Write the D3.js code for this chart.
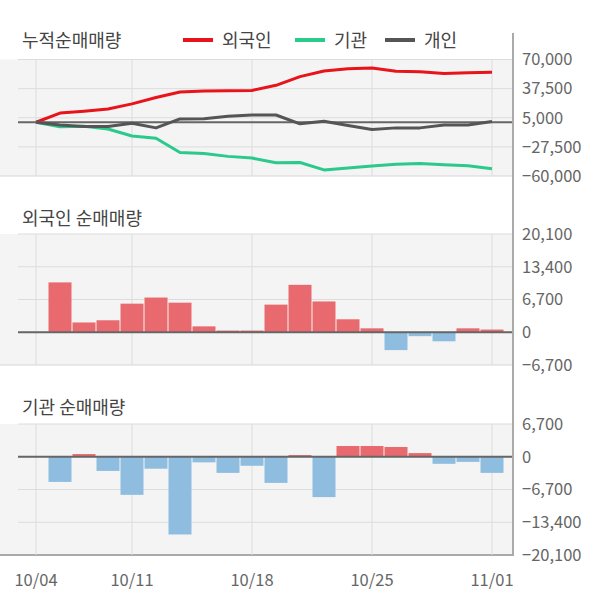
<!DOCTYPE html>
<html><head><meta charset="utf-8">
<script src="https://cdn.jsdelivr.net/npm/d3@7/dist/d3.min.js"></script>
<style>body{margin:0;background:#fff}svg{display:block}text{font-family:"Noto Sans CJK KR","Noto Sans",sans-serif}</style>
</head><body><svg id="c" width="600" height="604"></svg>
<script>
const dates = ["10/04","10/05","10/08","10/10","10/11","10/12","10/15","10/16","10/17","10/18","10/19","10/22","10/23","10/24","10/25","10/26","10/29","10/30","10/31","11/01"];
const tickDates = ["10/04","10/11","10/18","10/25","11/01"];
const foreignDaily = [0,10200,2000,2450,5850,7100,6050,1200,350,350,5650,9700,6300,2650,800,-3650,-800,-1850,800,550];
const instDaily = [0,-5150,550,-2900,-7800,-2450,-15900,-1150,-3300,-1850,-5350,350,-8250,2200,2200,2000,750,-1450,-1050,-3300];
const foreignCum = [0,10200,12200,14700,20500,27600,33700,34900,35200,35500,41200,50900,57200,59800,60600,57000,56200,54300,55100,55700];
const instCum = [0,-5150,-4600,-7500,-15300,-17800,-33700,-34800,-38100,-40000,-45300,-45000,-53200,-51000,-48800,-46800,-46000,-47500,-48600,-51900];
const indivCum = [0,-3000,-4800,-4800,-1100,-6300,3700,4000,6700,8100,8100,-1800,1100,-3700,-8100,-6300,-6300,-3000,-3000,700];
const cumTicks = [70000,37500,5000,-27500,-60000];
const forTicks = [20100,13400,6700,0,-6700];
const instTicks = [6700,0,-6700,-13400,-20100];
const seriesNames = ["외국인","기관","개인"];
const titles = ["누적순매매량","외국인 순매매량","기관 순매매량"];

const svg = d3.select("#c");
const W = 513, gl = 18;
const x = d3.scalePoint().domain(dates).range([36,492]);
const fmt = d3.format(",");
const colors = {red:"#e8141c", green:"#2bc98c", gray:"#555555", barPos:"#e96a6e", barNeg:"#8fbde0"};

function panel(top, bottom, domain, ticks, title, titleY, lastPanel){
  const y = d3.scaleLinear().domain(domain).range([bottom, top]);
  const g = svg.append("g");
  g.append("rect").attr("x",0).attr("y",top).attr("width",W).attr("height",bottom-top).attr("fill","#f4f4f4");
  ticks.forEach(t=>{
    const isBottom = t===d3.min(ticks);
    g.append("line").attr("x1", isBottom?0:gl).attr("x2",W).attr("y1",y(t)).attr("y2",y(t))
      .attr("stroke", isBottom ? (lastPanel?"#aaa":"#d6d6d6") : "#dcdcdc").attr("stroke-width", isBottom&&lastPanel?2:1);
  });
  tickDates.forEach(d=>{
    g.append("line").attr("x1",x(d)).attr("x2",x(d)).attr("y1",top).attr("y2",bottom).attr("stroke","#dcdcdc").attr("stroke-width",1);
  });
  ticks.forEach(t=>{
    g.append("text").attr("x",522).attr("y",y(t)).attr("dy","0.35em").attr("font-size",16.5).attr("fill","#666").text(fmt(t));
  });
  g.append("text").attr("x",22).attr("y",titleY).attr("font-size",18).attr("fill","#444").text(title);
  return {g,y};
}

const p1 = panel(59.5,176,[-60000,70000],cumTicks,titles[0],47,false);
p1.g.append("line").attr("x1",gl).attr("x2",W).attr("y1",p1.y(0)).attr("y2",p1.y(0)).attr("stroke","#666").attr("stroke-width",2);
const line = d3.line().x((d,i)=>x(dates[i])).y(d=>p1.y(d));
[[foreignCum,colors.red],[instCum,colors.green],[indivCum,colors.gray]].forEach(([arr,c])=>{
  p1.g.append("path").attr("d",line(arr)).attr("fill","none").attr("stroke",c).attr("stroke-width",3).attr("stroke-linejoin","round");
});
const leg = [[183,colors.red,seriesNames[0]],[295,colors.green,seriesNames[1]],[385,colors.gray,seriesNames[2]]];
leg.forEach(([lx,c,n])=>{
  svg.append("rect").attr("x",lx).attr("y",38).attr("width",30).attr("height",4).attr("fill",c);
  svg.append("text").attr("x",lx+39).attr("y",46.5).attr("font-size",18).attr("fill","#444").text(n);
});

function bars(p, data){
  p.g.selectAll(null).data(data).join("rect")
    .attr("x",(d,i)=>x(dates[i])-11.5).attr("width",23)
    .attr("y",d=>d>=0?p.y(d):p.y(0)).attr("height",d=>Math.abs(p.y(d)-p.y(0)))
    .attr("fill",d=>d>=0?colors.barPos:colors.barNeg);
  p.g.append("line").attr("x1",gl).attr("x2",W).attr("y1",p.y(0)).attr("y2",p.y(0)).attr("stroke","#666").attr("stroke-width",2);
}
const p2 = panel(234,365,[-6700,20100],forTicks,titles[1],225,false);
bars(p2, foreignDaily);
const p3 = panel(424,555,[-20100,6700],instTicks,titles[2],414,true);
bars(p3, instDaily);

svg.append("line").attr("x1",W).attr("x2",W).attr("y1",33).attr("y2",556).attr("stroke","#aaa").attr("stroke-width",2);
tickDates.forEach(d=>{
  svg.append("text").attr("x",x(d)).attr("y",586).attr("text-anchor","middle").attr("font-size",16.5).attr("fill","#666").text(d);
});
</script></body></html>
